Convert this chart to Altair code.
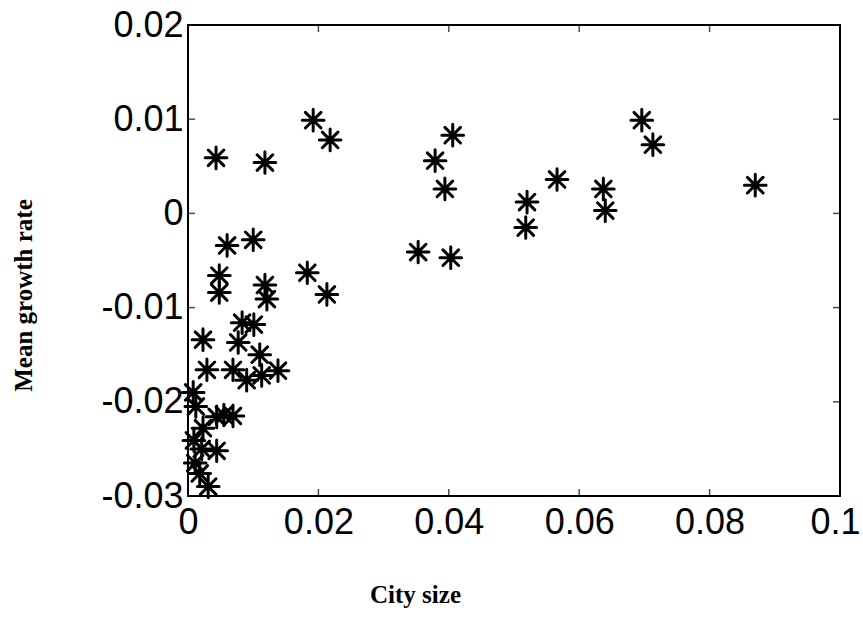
import altair as alt
import pandas as pd

# City size (x) and mean growth rate (y)
city_size = [
    0.0192, 0.0218, 0.0696, 0.0713, 0.0043, 0.0118, 0.0406, 0.0379, 0.0394,
    0.0566, 0.0520, 0.0518, 0.0353, 0.0403, 0.0637, 0.0640, 0.0870, 0.0060,
    0.0100, 0.0048, 0.0048, 0.0118, 0.0121, 0.0183, 0.0213, 0.0083, 0.0101,
    0.0023, 0.0077, 0.0110, 0.0029, 0.0069, 0.0090, 0.0113, 0.0138, 0.0008,
    0.0012, 0.0044, 0.0069, 0.0055, 0.0023, 0.0009, 0.0044, 0.0021, 0.0011,
    0.0018, 0.0031,
]
growth_rate = [
    0.0099, 0.0078, 0.0099, 0.0073, 0.0059, 0.0054, 0.0083, 0.0056, 0.0026,
    0.0036, 0.0012, -0.0015, -0.0041, -0.0047, 0.0026, 0.0003, 0.0030, -0.0034,
    -0.0028, -0.0066, -0.0084, -0.0076, -0.0091, -0.0063, -0.0086, -0.0116, -0.0118,
    -0.0134, -0.0137, -0.0150, -0.0166, -0.0166, -0.0177, -0.0172, -0.0167, -0.0190,
    -0.0205, -0.0216, -0.0215, -0.0214, -0.0228, -0.0241, -0.0252, -0.0250, -0.0265,
    -0.0276, -0.0290,
]

x_ticks = [0, 0.02, 0.04, 0.06, 0.08, 0.1]
y_ticks = [-0.03, -0.02, -0.01, 0, 0.01, 0.02]
x_inner = [0.02, 0.04, 0.06, 0.08]
y_inner = [-0.02, -0.01, 0, 0.01]

df = pd.DataFrame({"x": city_size, "y": growth_rate})

W, H = 652, 471
ASTERISK = "M-1,0L1,0M0,-1L0,1M-0.72,-0.72L0.72,0.72M-0.72,0.72L0.72,-0.72"
LABEL_EXPR = "datum.value == 0 ? '0' : replace(format(datum.value, '.2~f'), '\u2212', '-')"

xscale = alt.Scale(domain=[0, 0.1], nice=False, zero=False)
yscale = alt.Scale(domain=[-0.03, 0.02], nice=False, zero=False)

xaxis = alt.Axis(
    values=x_ticks, title="City size", labelFontSize=36, labelFont="Liberation Sans",
    labelColor="black", labelPadding=9, ticks=False, domain=False, grid=False,
    labelExpr=LABEL_EXPR, labelFlush=False,
    labelAlign=alt.ExprRef("datum.value >= 0.1 ? 'right' : 'center'"),
    labelOffset=alt.ExprRef("datum.value >= 0.1 ? 20 : 0"),
    titleFont="Liberation Serif", titleFontSize=25, titleFontWeight="bold",
    titleColor="black", titleX=227, titleY=86,
)
yaxis = alt.Axis(
    values=y_ticks, title="Mean growth rate", labelFontSize=36, labelFont="Liberation Sans",
    labelColor="black", labelPadding=5, ticks=False, domain=False, grid=False,
    labelExpr=LABEL_EXPR, labelFlush=False,
    titleFont="Liberation Serif", titleFontSize=25, titleFontWeight="bold",
    titleColor="black", titleAngle=270, titleX=-152, titleY=270,
)

points = alt.Chart(df).mark_point(
    shape=ASTERISK, size=470, filled=False, stroke="black", strokeWidth=3,
    strokeCap="round", opacity=1,
).encode(
    x=alt.X("x:Q", scale=xscale, axis=xaxis),
    y=alt.Y("y:Q", scale=yscale, axis=yaxis),
)

xt = pd.DataFrame({"v": x_inner})
yt = pd.DataFrame({"v": y_inner})

tick_bottom = alt.Chart(xt).mark_tick(orient="vertical", size=7, thickness=1.5, color="black", yOffset=-3.5).encode(
    x=alt.X("v:Q", scale=xscale), y=alt.datum(-0.03, scale=yscale))
tick_top = alt.Chart(xt).mark_tick(orient="vertical", size=7, thickness=1.5, color="black", yOffset=3.5).encode(
    x=alt.X("v:Q", scale=xscale), y=alt.datum(0.02, scale=yscale))
tick_left = alt.Chart(yt).mark_tick(orient="horizontal", size=7, thickness=1.5, color="black", xOffset=3.5).encode(
    y=alt.Y("v:Q", scale=yscale), x=alt.datum(0, scale=xscale))
tick_right = alt.Chart(yt).mark_tick(orient="horizontal", size=7, thickness=1.5, color="black", xOffset=-3.5).encode(
    y=alt.Y("v:Q", scale=yscale), x=alt.datum(0.1, scale=xscale))

chart = alt.layer(points, tick_bottom, tick_top, tick_left, tick_right).properties(
    width=W, height=H,
    autosize=alt.AutoSizeParams(type="none"),
    padding={"left": 188, "top": 25, "right": 23, "bottom": 122},
    background="white",
).configure_view(stroke="black", strokeWidth=2, fill="white")

chart.save("out.html", embed_options={"renderer": "svg", "actions": False})
